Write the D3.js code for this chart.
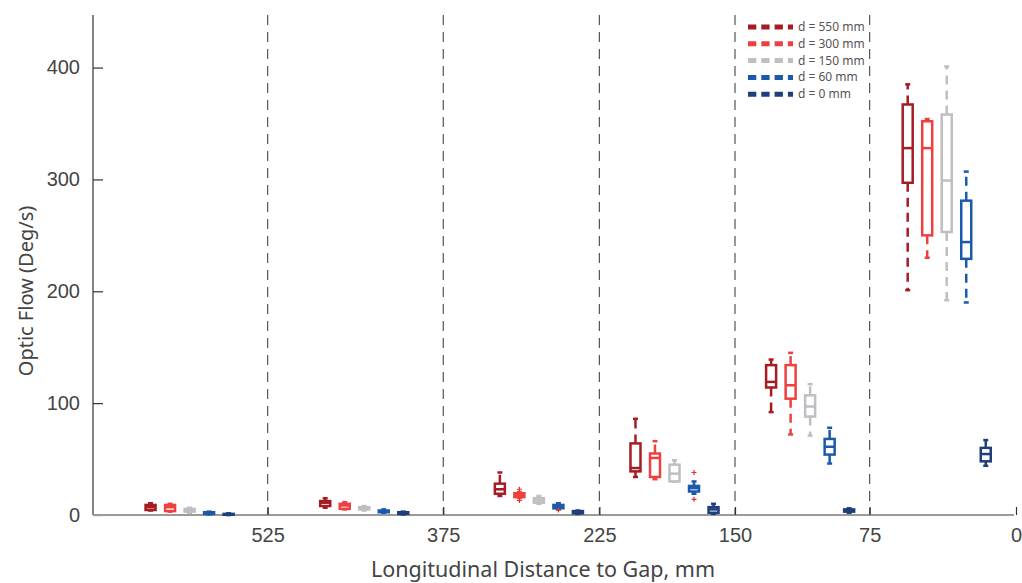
<!DOCTYPE html>
<html>
<head>
<meta charset="utf-8">
<script src="https://cdn.jsdelivr.net/npm/d3@7"></script>
<style>
  body { margin: 0; background: #fff; }
  svg { font-family: "Noto Sans", "Open Sans", sans-serif; }
</style>
</head>
<body>
<svg width="1022" height="583"></svg>
<script>
// tick labels on the x axis (distance to gap, mm) and where they sit in slot units
const groupLabels = ["525", "375", "225", "150", "75", "0"];
const groupTicks = [8.95, 17.95, 25.95, 32.9, 39.8, 47.3];
// first box slot of each group
const groupStart = [2.95, 11.9, 20.85, 27.8, 34.75, 41.75];

const seriesNames = ["d = 550 mm", "d = 300 mm", "d = 150 mm", "d = 60 mm", "d = 0 mm"];
const seriesColors = ["#a51c24", "#ef4040", "#bebec3", "#1b5aaa", "#1f3f7c"];

// box stats per series, one entry per group: [low whisker, q1, median, q3, high whisker]
const d550 = [[4, 4.5, 7, 9, 10.5], [6.5, 8, 11, 12.5, 15], [17, 19, 23, 28, 38], [34, 39, 42, 64, 86], [92, 114, 119, 134, 139], [201, 297, 328, 367, 385]];
const d300 = [[3, 3.5, 7, 9, 10], [5, 5.5, 8.5, 10, 11.5], [15.5, 16, 18, 19.5, 20.5], [32, 34, 51, 55, 66], [72, 104, 116, 134, 145], [230, 250, 328, 352, 354]];
const d150 = [[2, 3, 4, 5.5, 6.5], [4, 5, 6, 7, 8], [10, 11, 13, 15, 17], [30, 30, 37, 45, 49], [71, 88, 97, 107, 117], [192, 253, 299, 358, 401]];
const d60 = [[0.5, 1, 1.5, 2.5, 3], [2, 2.5, 3, 4, 5], [5, 6, 7.5, 9, 10.5], [19, 21, 24, 26, 30], [46, 54, 61, 68, 78], [190, 229, 244, 281, 307]];
const d0 = [[0, 0.2, 0.5, 1, 1.5], [0.5, 1, 2, 2.5, 3], [1, 1.5, 2.5, 3.5, 4], [1, 2, 5, 7, 10], [2, 3, 4, 5, 6], [44, 48, 54.5, 60, 67]];
const seriesStats = [d550, d300, d150, d60, d0];

// outliers: [group index, series index, value]
const outliers = [[2, 1, 23], [2, 1, 13], [2, 3, 4.5], [3, 3, 38], [3, 3, 14]];

const yTicks = [0, 100, 200, 300, 400];

const svg = d3.select("svg");
const area = { left: 93, right: 1014, top: 15, bottom: 515 };

const x = d3.scaleLinear().domain([0, 47.3]).range([area.left, area.right + 2]);
const y = d3.scaleLinear().domain([0, 447]).range([area.bottom, area.top]);

// dashed group separators
svg.append("g")
  .selectAll("line")
  .data(groupTicks.slice(0, 5))
  .join("line")
  .attr("x1", d => x(d)).attr("x2", d => x(d))
  .attr("y1", area.top).attr("y2", area.bottom)
  .attr("stroke", "#555")
  .attr("stroke-width", 1.2)
  .attr("stroke-dasharray", "10 7");

// y axis, ticks pointing inwards
const yAxis = svg.append("g")
  .attr("transform", `translate(${area.left},0)`)
  .call(d3.axisRight(y).tickValues(yTicks).tickSize(10).tickSizeOuter(0));
yAxis.select(".domain").attr("stroke", "#333").attr("stroke-width", 1.2).attr("d", `M0,${area.top}V${area.bottom}`);
yAxis.selectAll(".tick line").attr("stroke", "#333").attr("stroke-width", 1.2);
yAxis.selectAll(".tick text")
  .attr("x", -13).attr("text-anchor", "end")
  .attr("fill", "#444").style("font-size", "20px");

// x axis
const xAxis = svg.append("g")
  .attr("transform", `translate(0,${area.bottom})`)
  .call(d3.axisBottom(x).tickValues(groupTicks).tickFormat((d, i) => groupLabels[i]).tickSize(0).tickSizeOuter(0));
xAxis.select(".domain").attr("stroke", "#9a9a9a").attr("stroke-width", 2).attr("d", `M${area.left},0H${area.right}`);
xAxis.selectAll(".tick line").remove();
xAxis.selectAll(".tick").append("line")
  .attr("y1", 0).attr("y2", -8).attr("stroke", "#333").attr("stroke-width", 1.2);
xAxis.selectAll(".tick text")
  .attr("y", 13).attr("fill", "#444").style("font-size", "20px");

// axis titles
svg.append("text")
  .attr("x", 543).attr("y", 577)
  .attr("text-anchor", "middle")
  .attr("fill", "#444").style("font-size", "21.5px")
  .text("Longitudinal Distance to Gap, mm");
svg.append("text")
  .attr("transform", "translate(33,291) rotate(-90)")
  .attr("text-anchor", "middle")
  .attr("fill", "#444").style("font-size", "20px")
  .text("Optic Flow (Deg/s)");

// boxes
const boxW = 10, capW = 5, lw = 2.5;
seriesStats.forEach((stats, si) => {
  const col = seriesColors[si];
  const g = svg.append("g").attr("stroke", col).attr("fill", "none").attr("stroke-width", lw);
  stats.forEach((s, gi) => {
    const cx = x(groupStart[gi] + si);
    const [lo, q1, med, q3, hi] = s;
    // whiskers
    g.append("line").attr("x1", cx).attr("x2", cx).attr("y1", y(q3)).attr("y2", y(hi)).attr("stroke-dasharray", "9 6");
    g.append("line").attr("x1", cx).attr("x2", cx).attr("y1", y(q1)).attr("y2", y(lo)).attr("stroke-dasharray", "9 6");
    g.append("line").attr("x1", cx - capW / 2).attr("x2", cx + capW / 2).attr("y1", y(hi)).attr("y2", y(hi));
    g.append("line").attr("x1", cx - capW / 2).attr("x2", cx + capW / 2).attr("y1", y(lo)).attr("y2", y(lo));
    // box and median
    g.append("rect")
      .attr("x", cx - boxW / 2).attr("width", boxW)
      .attr("y", y(q3)).attr("height", Math.max(0.5, y(q1) - y(q3)))
      .attr("fill", "#fff");
    g.append("line").attr("x1", cx - boxW / 2).attr("x2", cx + boxW / 2).attr("y1", y(med)).attr("y2", y(med));
  });
});

// outliers as red plus signs
svg.append("g")
  .selectAll("path")
  .data(outliers)
  .join("path")
  .attr("transform", d => `translate(${x(groupStart[d[0]] + d[1])},${y(d[2])})`)
  .attr("d", "M-2.5,0H2.5M0,-2.5V2.5")
  .attr("stroke", "#ef2b2b")
  .attr("stroke-width", 1.2);

// legend
const legend = svg.append("g").attr("transform", "translate(748,27)");
const rows = legend.selectAll("g")
  .data(seriesNames)
  .join("g")
  .attr("transform", (d, i) => `translate(0,${i * 16.8})`);
rows.append("line")
  .attr("x1", 0).attr("x2", 45).attr("y1", 0).attr("y2", 0)
  .attr("stroke", (d, i) => seriesColors[i])
  .attr("stroke-width", 5)
  .attr("stroke-dasharray", "8.3 5");
rows.append("text")
  .attr("x", 50).attr("y", 4)
  .attr("fill", "#555").style("font-size", "12px")
  .text(d => d);
</script>
</body>
</html>
